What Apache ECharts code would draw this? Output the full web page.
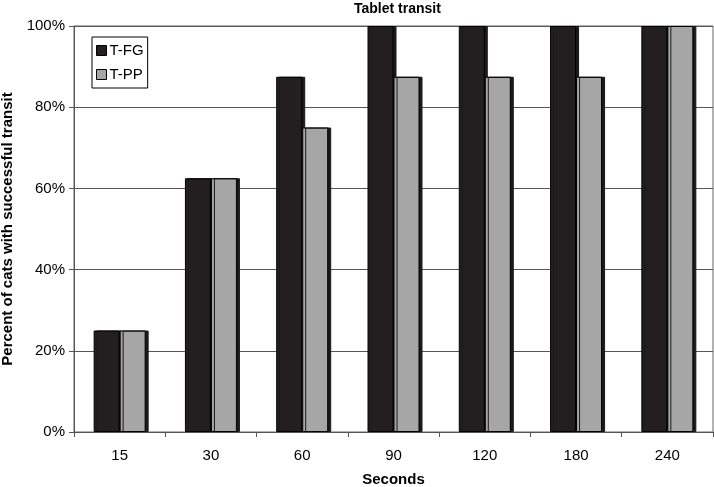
<!DOCTYPE html>
<html><head><meta charset="utf-8">
<script src="https://cdn.jsdelivr.net/npm/echarts@6/dist/echarts.min.js"></script>
<style>html,body{margin:0;padding:0;background:#fff}#c{width:714px;height:487px}</style>
</head><body><div id="c"></div>
<script>
const categories = ['15','30','60','90','120','180','240'];
const tfg = [25, 62.5, 87.5, 100, 100, 100, 100];
const tpp = [25, 62.5, 75, 87.5, 87.5, 87.5, 100];
const yTicks = [0, 20, 40, 60, 80, 100];

const chart = echarts.init(document.getElementById('c'));
const font = 'Liberation Sans, Arial, sans-serif';
const shadow = {shadowColor:'#1a1a1a', shadowOffsetX:3, shadowOffsetY:0, shadowBlur:0};
chart.setOption({
  animation:false,
  title:{text:'Tablet transit', left:349, top:-3,
    textStyle:{fontFamily:font, fontSize:14, fontWeight:'bold', color:'#000'}},
  legend:{orient:'vertical', left:92, top:37, itemWidth:10, itemHeight:10, itemGap:9,
    borderColor:'#000', borderWidth:1, padding:[6,4,6,4], itemStyle:{borderWidth:1, borderColor:'#000'},
    textStyle:{fontFamily:font, fontSize:15, color:'#000', padding:[0,0,0,-2]},
    data:[{name:'T-FG', icon:'rect'},{name:'T-PP', icon:'rect'}]},
  grid:{left:74, right:1, top:26, bottom:55, outerBoundsMode:'none', containLabel:false,
    show:true, borderColor:'#666', borderWidth:1, backgroundColor:'transparent'},
  xAxis:{type:'category', data:categories, name:'Seconds', nameLocation:'middle', nameGap:40,
    nameTextStyle:{fontFamily:font, fontSize:15, fontWeight:'bold', color:'#000'},
    axisLine:{lineStyle:{color:'#555'}}, axisTick:{show:true, length:5, lineStyle:{color:'#555'}},
    axisLabel:{fontFamily:font, fontSize:15, color:'#000', margin:16}},
  yAxis:{type:'value', min:0, max:100, interval:20,
    name:'Percent of cats with successful transit', nameLocation:'middle', nameGap:59,
    nameTextStyle:{fontFamily:font, fontSize:15, fontWeight:'bold', color:'#000'},
    axisLine:{show:true, lineStyle:{color:'#555'}}, axisTick:{show:true, length:5, lineStyle:{color:'#555'}},
    axisLabel:{fontFamily:font, fontSize:15, color:'#000', margin:9,
      formatter:v => yTicks.includes(v) ? v + '%' : ''},
    splitLine:{lineStyle:{color:'#555', width:1}}},
  series:[
    {name:'T-FG', type:'bar', data:tfg, barWidth:26, barGap:'0%',
      itemStyle:Object.assign({color:'#231f20', borderColor:'#000', borderWidth:1}, shadow)},
    {name:'T-PP', type:'bar', data:tpp, barWidth:26, barGap:'0%',
      itemStyle:Object.assign({color:'#a6a6a6', borderColor:'#000', borderWidth:1}, shadow)}
  ]
});
</script></body></html>
